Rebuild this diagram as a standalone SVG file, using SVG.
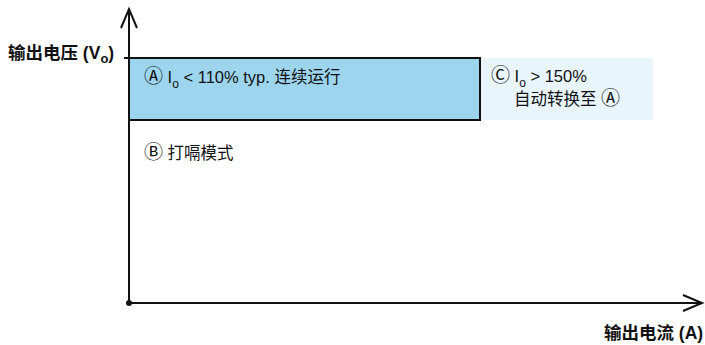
<svg xmlns="http://www.w3.org/2000/svg" width="705" height="345" viewBox="0 0 705 345">
<style>
.ax{stroke:#111;stroke-width:2;fill:none}
.t{font-family:"Liberation Sans","Noto Sans CJK SC",sans-serif;font-size:16.5px;fill:#111}
.c{font-size:19px}
.b{font-family:"Liberation Sans","Noto Sans CJK SC",sans-serif;font-size:17.5px;font-weight:bold;fill:#111}
</style>
<rect width="705" height="345" fill="#fff"/>
<g id="regionC"><rect x="480" y="58" width="173" height="62" fill="#e8f5fc"/></g>
<g id="regionA"><rect x="129" y="58" width="351" height="62" fill="#9dd5ef" stroke="#111" stroke-width="2"/></g>
<g id="connectors">
<line class="ax" x1="124" y1="58" x2="129" y2="58"/>
<line class="ax" x1="129" y1="303" x2="129" y2="9"/>
<polyline class="ax" points="121,28 129,9 137,28"/>
<line class="ax" x1="129" y1="303" x2="702" y2="303"/>
<polyline class="ax" points="683,295 702,303 683,311"/>
<circle cx="129" cy="303" r="3" fill="#111"/>
</g>
<g id="labels">
<text class="b" x="8" y="59">输出电压 (V<tspan font-size="13" dy="4">o</tspan><tspan dy="-4">)</tspan></text>
<text class="t" x="144" y="83"><tspan class="c">Ⓐ</tspan> I<tspan font-size="12" dy="5">o</tspan><tspan dy="-5"> &lt; 110% typ. 连续运行</tspan></text>
<text class="t" x="491" y="82"><tspan class="c">Ⓒ</tspan> I<tspan font-size="12" dy="5">o</tspan><tspan dy="-5"> &gt; 150%</tspan></text>
<text class="t" x="514" y="105">自动转换至 <tspan class="c">Ⓐ</tspan></text>
<text class="t" x="144" y="159"><tspan class="c">Ⓑ</tspan> 打嗝模式</text>
<text class="b" x="604" y="339">输出电流 (A)</text>
</g>
</svg>
